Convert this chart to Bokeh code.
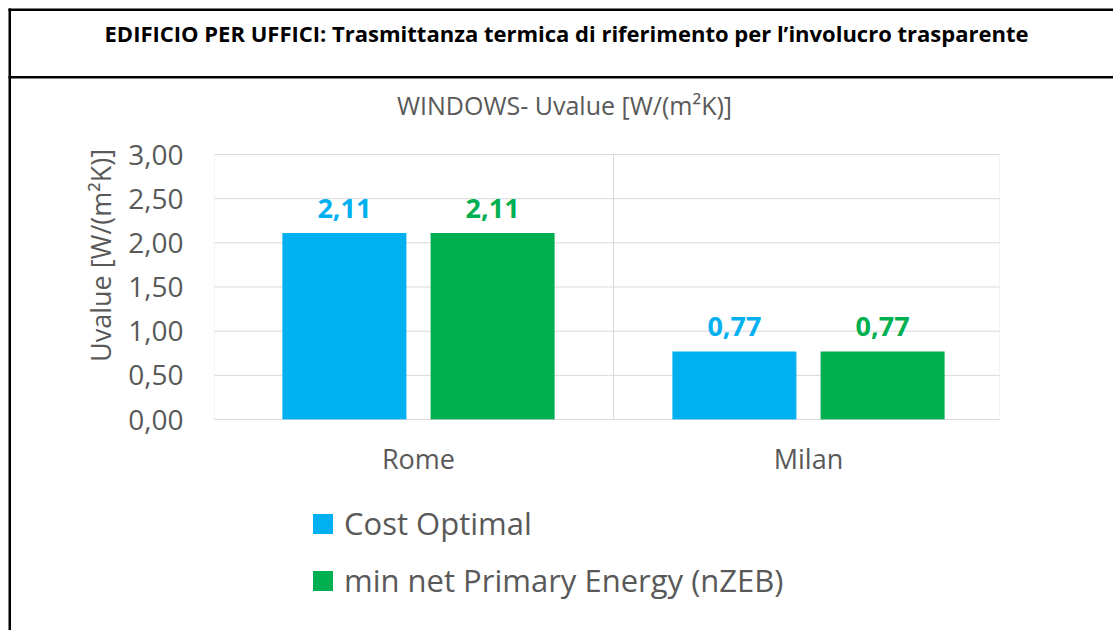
import math
from bokeh.plotting import figure
from bokeh.models import (ColumnDataSource, Label, Legend, LegendItem, BoxAnnotation,
                          FixedTicker, CustomJSTickFormatter, Range1d)
from bokeh.transform import dodge
from bokeh.embed import file_html
from bokeh.resources import INLINE
from bokeh.core.properties import value

# ---------------- data ----------------
header = "EDIFICIO PER UFFICI: Trasmittanza termica di riferimento per l\u2019involucro trasparente"
chart_title = "WINDOWS- Uvalue [W/(m\u00b2K)]"
y_label = "Uvalue [W/(m\u00b2K)]"
cities = ["Rome", "Milan"]
series_names = ["Cost Optimal", "min net Primary Energy (nZEB)"]
cost_optimal = [2.11, 0.77]
min_nzeb = [2.11, 0.77]
y_ticks = [0.0, 0.5, 1.0, 1.5, 2.0, 2.5, 3.0]
colors = ["#00B0F0", "#00B050"]


def it_fmt(v):
    return f"{v:.2f}".replace(".", ",")


# ---------------- layout constants (pixels) ----------------
W, H = 1113, 630
GREY = "#595959"
GRID = "#d9d9d9"
FONT = "Open Sans"
X0_PX, X_UNIT_PX = 418, 390          # pixel of first category, pixels per category
Y0_PX, Y_TOP_PX = 419, 154           # pixel of value 0 and of value 3
AREA_L_PX, AREA_R_PX = 214, 999      # plot-area border
y_max = y_ticks[-1]
Y_UNIT_PX = (Y0_PX - Y_TOP_PX) / y_max

x_start = -X0_PX / X_UNIT_PX
x_end = x_start + W / X_UNIT_PX
y_start = -(H - Y0_PX) / Y_UNIT_PX
y_end = y_max + Y_TOP_PX / Y_UNIT_PX
area_l = (AREA_L_PX - X0_PX) / X_UNIT_PX
area_r = (AREA_R_PX - X0_PX) / X_UNIT_PX

positions = list(range(len(cities)))
src = ColumnDataSource(dict(
    pos=positions,
    co=cost_optimal,
    nz=min_nzeb,
    co_lbl=[it_fmt(v) for v in cost_optimal],
    nz_lbl=[it_fmt(v) for v in min_nzeb],
))

p = figure(width=W, height=H, x_range=Range1d(x_start, x_end),
           y_range=Range1d(y_start, y_end), output_backend="svg",
           toolbar_location=None, min_border=0)
p.outline_line_color = None
p.background_fill_color = "white"
p.border_fill_color = "white"
p.xgrid.grid_line_color = None
p.ygrid.grid_line_color = None

# plot-area gridlines, border and category separator
p.segment(x0=area_l, x1=area_r, y0=y_ticks, y1=y_ticks, line_color=GRID, line_width=1)
p.add_layout(BoxAnnotation(left=area_l, right=area_r, bottom=y_ticks[0], top=y_max,
                           fill_alpha=0, line_color=GRID, line_width=1))
p.segment(x0=[0.5], x1=[0.5], y0=[y_ticks[0]], y1=[y_max], line_color=GRID, line_width=1)

OFF = 0.19
BW = 0.318
r1 = p.vbar(x=dodge("pos", -OFF), top="co", width=BW, source=src,
            fill_color=colors[0], line_color=None)
r2 = p.vbar(x=dodge("pos", OFF), top="nz", width=BW, source=src,
            fill_color=colors[1], line_color=None)

for xs, col, lbl, c in [(-OFF, "co", "co_lbl", colors[0]), (OFF, "nz", "nz_lbl", colors[1])]:
    p.text(x=dodge("pos", xs), y=col, text=lbl, source=src,
           text_align="center", text_baseline="middle", y_offset=-25,
           text_font=value(FONT), text_font_style="bold", text_font_size="27px",
           text_color=c)

# axes
p.yaxis.fixed_location = area_l
p.yaxis.ticker = FixedTicker(ticks=y_ticks)
p.yaxis.formatter = CustomJSTickFormatter(code="return tick.toFixed(2).replace('.', ',')")
p.yaxis.axis_line_color = None
p.yaxis.major_tick_line_color = None
p.yaxis.minor_tick_line_color = None
p.yaxis.major_tick_out = 0
p.yaxis.minor_tick_out = 0
p.yaxis.major_label_standoff = 31
p.yaxis.major_label_text_font = FONT
p.yaxis.major_label_text_font_size = "28px"
p.yaxis.major_label_text_color = GREY

p.xaxis.fixed_location = y_ticks[0]
p.xaxis.ticker = FixedTicker(ticks=positions)
p.xaxis.formatter = CustomJSTickFormatter(args=dict(names=cities),
                                          code="return names[Math.round(tick)] ?? ''")
p.xaxis.axis_line_color = None
p.xaxis.major_tick_line_color = None
p.xaxis.minor_tick_line_color = None
p.xaxis.major_tick_out = 0
p.xaxis.minor_tick_out = 0
p.xaxis.major_label_standoff = 20
p.xaxis.major_label_text_font = FONT
p.xaxis.major_label_text_font_size = "27px"
p.xaxis.major_label_text_color = GREY


# texts (screen units: x from left, y up from the bottom of the canvas)
def sy(page_y):
    return H - page_y


p.add_layout(Label(x=566, y=sy(32), x_units="screen", y_units="screen", text=header,
                   text_align="center", text_baseline="middle", text_font=FONT,
                   text_font_style="bold", text_font_size="22px", text_color="black"))
p.add_layout(Label(x=564, y=sy(104), x_units="screen", y_units="screen", text=chart_title,
                   text_align="center", text_baseline="middle", text_font=FONT,
                   text_font_size="25px", text_color=GREY))
p.add_layout(Label(x=100, y=sy(255), x_units="screen", y_units="screen", text=y_label,
                   angle=math.pi / 2, text_align="center", text_baseline="middle",
                   text_font=FONT, text_font_size="27px", text_color=GREY))

# table border lines
for l, r, t, b in [(8, W, 8, 10.5), (8, W, 75.5, 78), (8, 10.5, 8, H)]:
    p.add_layout(BoxAnnotation(left=l, right=r, top=sy(t), bottom=sy(b),
                               left_units="screen", right_units="screen",
                               top_units="screen", bottom_units="screen",
                               fill_color="black", fill_alpha=1, line_color=None))

legend = Legend(items=[LegendItem(label=series_names[0], renderers=[r1]),
                       LegendItem(label=series_names[1], renderers=[r2])],
                location=(310, sy(601)), orientation="vertical",
                glyph_width=25, glyph_height=25, label_standoff=9, spacing=15,
                padding=0, margin=0, border_line_color=None, background_fill_alpha=0,
                label_text_font=FONT, label_text_font_size="31px", label_text_color=GREY)
p.add_layout(legend)

open("out.html", "w").write(file_html(p, INLINE, "chart"))
